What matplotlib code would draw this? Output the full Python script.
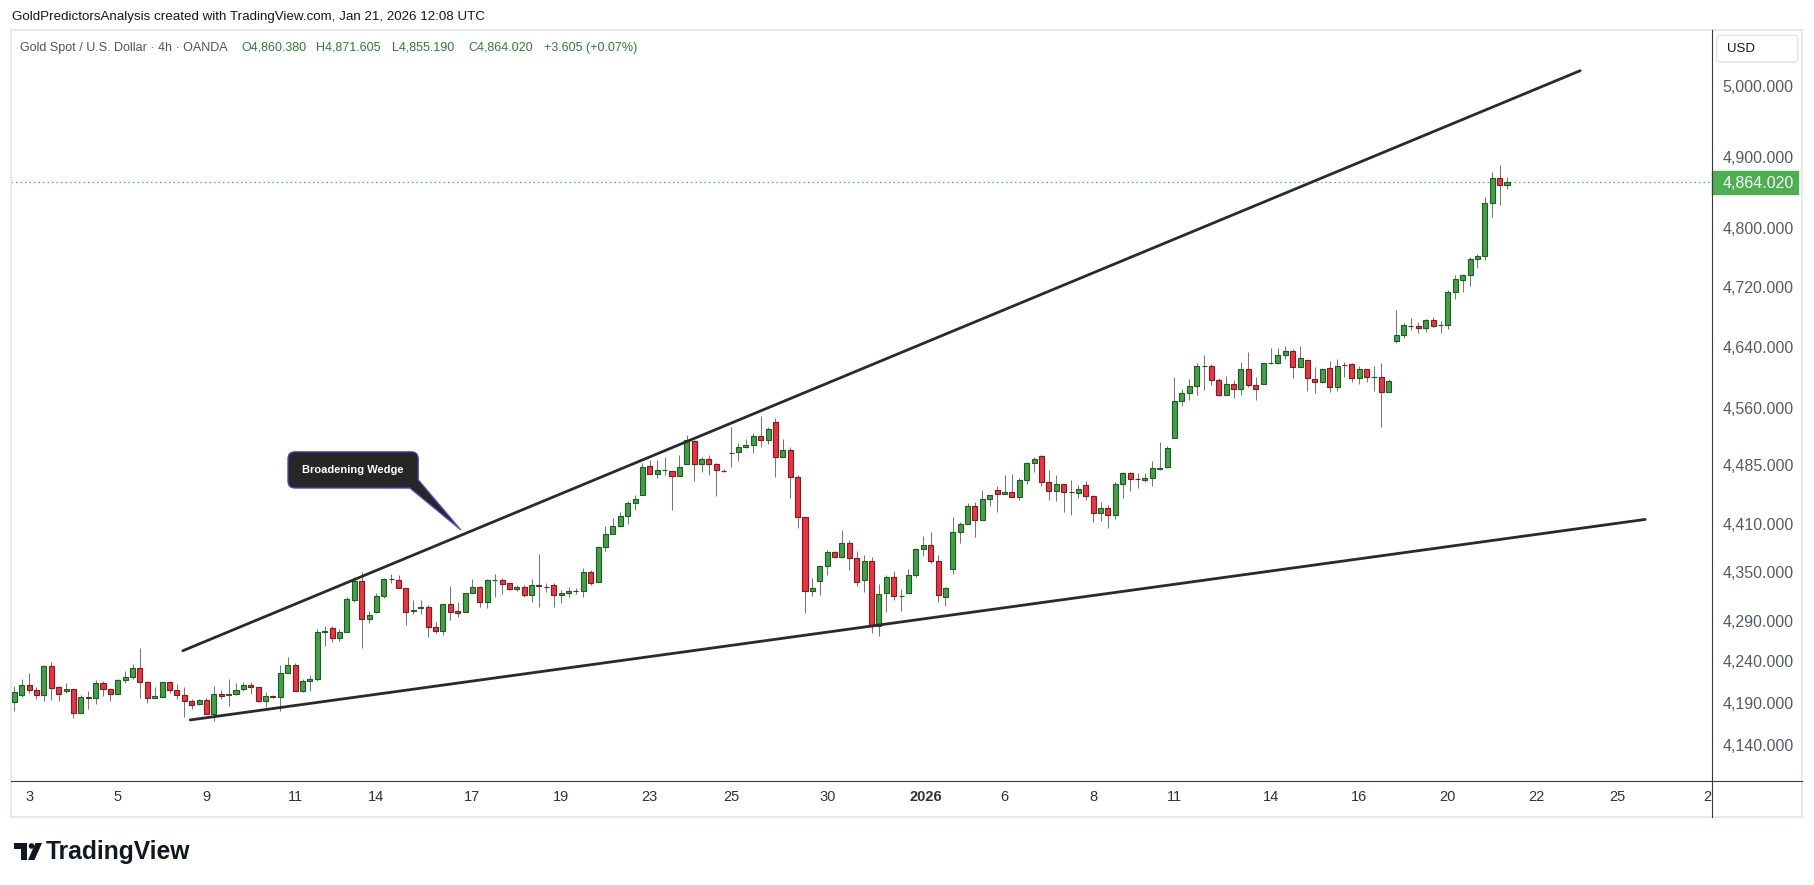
import numpy as np
import matplotlib
matplotlib.use("Agg")
import matplotlib.pyplot as plt
from matplotlib import font_manager
from matplotlib.patches import Rectangle, FancyBboxPatch, Polygon, Circle
from matplotlib.lines import Line2D
from matplotlib.transforms import Affine2D
from matplotlib.ticker import NullLocator

# -------------------- DATA (4h candles) --------------------
opens = [4190.7, 4199.1, 4211.2, 4205.1, 4199.1, 4234.2, 4208.8, 4203.9, 4206.3, 4177.5,
         4196.7, 4195.5, 4213.6, 4206.3, 4200.3, 4217.2, 4220.9, 4231.8, 4214.8, 4195.5,
         4197.4, 4214.8, 4205.1, 4199.1, 4191.8, 4188.3, 4193.0, 4176.3, 4200.3, 4199.1,
         4200.3, 4206.3, 4211.2, 4208.8, 4191.8, 4197.9, 4196.7, 4225.7, 4235.4, 4203.9,
         4216.0, 4218.4, 4276.2, 4280.5, 4268.3, 4275.6, 4315.3, 4338.9, 4291.6, 4300.2,
         4320.3, 4341.4, 4340.2, 4329.9, 4302.0, 4305.0, 4306.3, 4281.8, 4277.6, 4310.0,
         4301.8, 4300.9, 4323.6, 4331.1, 4313.2, 4339.5, 4339.8, 4336.1, 4328.6, 4331.1,
         4321.1, 4333.6, 4332.0, 4334.0, 4321.1, 4323.6, 4326.9, 4326.1, 4350.5, 4338.1,
         4380.9, 4397.3, 4407.8, 4420.9, 4436.5, 4446.7, 4484.3, 4473.6, 4478.5, 4477.5,
         4471.1, 4486.5, 4516.1, 4486.5, 4492.9, 4486.5, 4478.2, 4500.6, 4501.9, 4508.3,
         4510.9, 4522.6, 4517.4, 4540.8, 4495.4, 4504.4, 4469.8, 4418.8, 4326.1, 4338.6,
         4357.2, 4374.6, 4369.2, 4386.0, 4367.2, 4339.8, 4363.4, 4283.4, 4323.6, 4343.5,
         4319.7, 4323.6, 4346.0, 4378.4, 4383.4, 4363.4, 4319.4, 4353.5, 4399.9, 4410.0,
         4432.7, 4415.0, 4441.6, 4453.1, 4448.0, 4450.6, 4444.2, 4466.0, 4487.7, 4496.7,
         4463.4, 4451.9, 4460.8, 4450.8, 4449.3, 4459.6, 4445.4, 4423.9, 4430.2, 4421.4,
         4460.8, 4474.9, 4467.4, 4466.0, 4468.5, 4480.4, 4482.6, 4520.0, 4568.1, 4578.6,
         4587.9, 4613.9, 4614.2, 4595.8, 4576.0, 4590.5, 4583.9, 4610.3, 4589.2, 4590.5,
         4618.0, 4618.2, 4628.7, 4634.0, 4612.9, 4622.1, 4597.1, 4593.1, 4611.6, 4586.5,
         4616.2, 4616.9, 4598.4, 4610.3, 4599.4, 4599.7, 4579.9, 4648.1, 4655.4, 4668.4,
         4667.4, 4664.7, 4675.4, 4668.5, 4668.7, 4713.1, 4730.2, 4736.1, 4757.9, 4761.9,
         4834.8, 4869.6, 4860.380]
highs = [4210.3, 4218.4, 4225.7, 4208.8, 4235.8, 4239.4, 4210.3, 4213.9, 4206.3, 4199.5,
         4204.3, 4217.2, 4216.0, 4207.6, 4218.4, 4228.5, 4237.0, 4256.4, 4216.0, 4208.8,
         4214.8, 4216.0, 4212.4, 4208.8, 4194.2, 4194.2, 4195.5, 4210.0, 4205.1, 4218.4,
         4213.6, 4215.2, 4214.8, 4208.8, 4202.7, 4199.0, 4236.1, 4245.1, 4237.8, 4218.4,
         4223.3, 4279.3, 4283.4, 4283.4, 4279.3, 4319.4, 4344.3, 4350.5, 4301.8, 4324.4,
         4342.7, 4347.6, 4346.4, 4329.9, 4315.3, 4315.3, 4309.2, 4288.7, 4310.0, 4332.7,
         4313.2, 4324.4, 4341.0, 4332.7, 4341.8, 4347.6, 4343.0, 4336.1, 4334.0, 4334.3,
         4341.0, 4372.5, 4336.0, 4336.1, 4327.7, 4331.8, 4329.9, 4354.7, 4352.6, 4382.9,
         4407.8, 4417.6, 4425.9, 4439.4, 4447.1, 4487.7, 4492.0, 4492.0, 4495.8, 4477.5,
         4498.4, 4524.3, 4517.4, 4495.8, 4498.4, 4488.1, 4480.3, 4534.7, 4513.5, 4519.1,
         4526.5, 4549.0, 4534.3, 4546.0, 4519.1, 4508.3, 4472.7, 4418.8, 4342.7, 4358.8,
         4377.5, 4376.3, 4402.5, 4389.8, 4376.3, 4370.9, 4368.4, 4334.8, 4346.4, 4351.4,
         4329.0, 4353.9, 4380.4, 4395.2, 4400.2, 4371.3, 4331.8, 4419.2, 4412.9, 4436.9,
         4438.5, 4453.5, 4446.7, 4458.6, 4472.7, 4474.0, 4468.9, 4489.4, 4495.8, 4498.4,
         4479.1, 4472.7, 4460.8, 4466.0, 4459.6, 4464.7, 4446.7, 4437.8, 4434.4, 4463.4,
         4476.9, 4476.9, 4475.7, 4475.7, 4490.3, 4514.8, 4510.0, 4600.1, 4583.9, 4597.5,
         4618.2, 4629.1, 4616.9, 4598.4, 4601.4, 4595.8, 4619.5, 4632.7, 4600.1, 4618.2,
         4638.0, 4638.0, 4640.9, 4637.0, 4640.9, 4622.1, 4612.9, 4611.6, 4620.8, 4623.4,
         4619.5, 4618.2, 4614.2, 4610.3, 4614.2, 4618.2, 4597.1, 4689.2, 4672.2, 4678.1,
         4672.7, 4677.2, 4679.9, 4674.5, 4716.2, 4736.1, 4737.9, 4761.0, 4765.1, 4843.5,
         4878.0, 4888.2, 4871.605]
lows = [4180.6, 4197.0, 4201.5, 4195.0, 4192.6, 4193.8, 4192.6, 4201.5, 4172.3, 4177.5,
        4183.0, 4189.0, 4197.9, 4192.6, 4200.3, 4213.6, 4218.4, 4196.3, 4190.2, 4195.5,
        4196.7, 4201.5, 4195.0, 4173.5, 4182.3, 4187.1, 4176.3, 4168.0, 4194.2, 4186.6,
        4199.1, 4203.9, 4200.3, 4190.7, 4185.4, 4196.0, 4179.9, 4225.7, 4203.9, 4202.7,
        4203.9, 4216.0, 4258.8, 4263.2, 4264.4, 4275.6, 4312.8, 4256.0, 4286.7, 4299.0,
        4317.4, 4336.1, 4329.9, 4284.6, 4298.1, 4298.1, 4269.5, 4274.4, 4272.3, 4290.7,
        4294.8, 4300.9, 4323.6, 4307.1, 4305.1, 4318.6, 4322.4, 4327.7, 4326.5, 4319.4,
        4313.2, 4307.1, 4325.0, 4307.1, 4311.2, 4319.4, 4322.8, 4318.6, 4334.0, 4338.1,
        4376.6, 4397.3, 4407.0, 4410.7, 4428.1, 4446.7, 4473.6, 4468.5, 4472.7, 4428.1,
        4471.1, 4486.5, 4465.0, 4476.9, 4472.7, 4446.2, 4476.0, 4483.4, 4490.9, 4507.0,
        4501.3, 4509.1, 4513.0, 4470.5, 4495.4, 4443.6, 4405.7, 4299.7, 4320.6, 4321.9,
        4346.8, 4367.2, 4367.2, 4353.0, 4333.1, 4325.6, 4275.1, 4271.5, 4300.9, 4315.7,
        4302.2, 4323.6, 4343.5, 4370.4, 4360.9, 4313.2, 4308.3, 4348.0, 4386.8, 4410.0,
        4394.3, 4415.0, 4433.1, 4425.9, 4448.0, 4444.2, 4441.1, 4461.6, 4476.1, 4459.1,
        4441.1, 4439.8, 4425.9, 4422.1, 4443.6, 4440.3, 4413.3, 4414.6, 4405.7, 4417.1,
        4443.6, 4451.9, 4456.5, 4463.4, 4458.3, 4478.7, 4482.0, 4520.0, 4561.6, 4569.4,
        4576.8, 4583.4, 4589.2, 4574.7, 4576.0, 4572.8, 4576.8, 4586.5, 4569.4, 4590.5,
        4616.9, 4616.9, 4623.4, 4598.4, 4612.9, 4582.1, 4579.4, 4591.8, 4580.7, 4582.1,
        4599.7, 4593.1, 4590.5, 4593.1, 4582.1, 4535.1, 4579.9, 4645.5, 4652.2, 4662.1,
        4658.9, 4660.2, 4666.9, 4658.9, 4664.2, 4704.3, 4713.9, 4722.0, 4746.5, 4757.3,
        4816.3, 4832.8, 4855.190]
closes = [4202.7, 4211.2, 4205.1, 4199.1, 4234.2, 4207.6, 4200.3, 4206.3, 4177.5, 4196.7,
          4195.5, 4213.6, 4206.3, 4200.3, 4217.2, 4220.9, 4231.8, 4214.8, 4195.5, 4197.9,
          4214.8, 4205.1, 4199.1, 4191.8, 4187.1, 4193.0, 4176.3, 4200.3, 4197.9, 4200.3,
          4205.1, 4211.2, 4208.8, 4191.8, 4197.9, 4197.4, 4225.7, 4235.4, 4203.9, 4216.0,
          4218.4, 4275.6, 4276.8, 4268.3, 4275.6, 4316.2, 4338.9, 4291.6, 4296.9, 4320.3,
          4341.4, 4340.9, 4329.9, 4300.9, 4302.6, 4306.3, 4281.8, 4277.6, 4310.0, 4300.9,
          4299.0, 4323.6, 4331.1, 4313.2, 4339.8, 4340.0, 4334.8, 4328.6, 4331.1, 4321.1,
          4333.6, 4333.1, 4331.5, 4321.1, 4323.6, 4326.9, 4326.4, 4350.5, 4336.1, 4380.9,
          4397.3, 4407.8, 4420.9, 4436.5, 4441.6, 4483.4, 4473.6, 4478.8, 4479.0, 4471.1,
          4483.0, 4517.4, 4486.5, 4492.9, 4486.5, 4478.8, 4477.6, 4501.3, 4508.3, 4510.9,
          4522.6, 4517.4, 4532.1, 4495.4, 4504.4, 4469.8, 4418.8, 4326.1, 4329.9, 4357.2,
          4374.6, 4369.2, 4386.0, 4367.2, 4337.3, 4363.8, 4283.4, 4322.4, 4343.5, 4319.9,
          4320.2, 4346.0, 4378.4, 4383.4, 4363.4, 4321.1, 4329.9, 4399.9, 4410.0, 4432.7,
          4415.0, 4441.6, 4446.7, 4448.0, 4450.6, 4444.2, 4466.0, 4487.7, 4492.9, 4463.4,
          4451.9, 4460.8, 4450.6, 4450.4, 4454.4, 4445.4, 4423.9, 4430.2, 4421.4, 4460.8,
          4474.9, 4467.2, 4467.0, 4468.5, 4481.3, 4482.1, 4507.0, 4568.1, 4578.6, 4587.9,
          4614.2, 4614.4, 4595.8, 4576.0, 4590.5, 4583.9, 4610.3, 4589.2, 4583.9, 4618.2,
          4618.5, 4628.7, 4634.0, 4612.9, 4624.8, 4598.4, 4593.1, 4610.3, 4586.5, 4614.2,
          4615.7, 4598.4, 4610.3, 4599.7, 4599.9, 4579.9, 4594.4, 4655.4, 4668.7, 4668.0,
          4664.7, 4675.4, 4668.2, 4669.0, 4713.1, 4730.7, 4736.1, 4757.9, 4761.9, 4834.8,
          4869.6, 4860.415, 4864.020]

price_ticks = [5000, 4900, 4800, 4720, 4640, 4560, 4485, 4410, 4350, 4290, 4240, 4190, 4140]
date_pos = [2, 14, 26, 38, 49, 62, 74, 86, 97, 110, 123.3, 134, 146, 157, 170, 182, 194, 206, 217, 229.7]
date_lbl = ["3", "5", "9", "11", "14", "17", "19", "23", "25", "30", "2026",
            "6", "8", "11", "14", "16", "20", "22", "25", "27"]

# trend lines of the wedge: (bar index, price)
upper_x, upper_y = [22.8, 211.9], [4253.0, 5022.0]
lower_x, lower_y = [23.8, 220.7], [4169.5, 4416.1]
callout_at = (60.4, 4403.0)

# -------------------- STYLE --------------------
avail = {f.name for f in font_manager.fontManager.ttflist}
NARROW = "Liberation Sans Narrow" if "Liberation Sans Narrow" in avail else "Liberation Sans"
plt.rcParams["font.family"] = ["Liberation Sans", "DejaVu Sans"]

GREEN, GREEN_EDGE = "#43a047", "#1b5e20"
RED, RED_EDGE = "#f2313f", "#7f1b22"
WICK = "#777777"
LINE = "#2a2a2a"

W, H = 1814, 885
fig = plt.figure(figsize=(W / 100, H / 100), dpi=100)
px = Affine2D().scale(1, -1).translate(0, H)   # pixel coords, origin top-left

L, R, T, B = 11, 1711.7, 30, 781
ax = fig.add_axes([L / W, 1 - B / H, (R - L) / W, (B - T) / H])
ax.set_yscale("log")
ax.set_xlim(-0.45, 229.7)
ax.set_ylim(4097.2, 5080.9)
for s in ax.spines.values():
    s.set_visible(False)

# -------------------- CANDLES --------------------
o, h, l, c = map(np.array, (opens, highs, lows, closes))
x = np.arange(len(o))
up = c >= o
lo, hi = np.minimum(o, c), np.maximum(o, c)
ax.vlines(x, l, h, color=WICK, lw=0.75, zorder=2)
ax.bar(x, hi - lo, bottom=lo, width=0.68,
       color=np.where(up, GREEN, RED), edgecolor=np.where(up, GREEN_EDGE, RED_EDGE),
       linewidth=0.8, zorder=3)

last = c[-1]
ax.axhline(last, color="#4caf50", lw=0.9, dashes=(1.2, 2.4), zorder=1)

ax.plot(upper_x, upper_y, color=LINE, lw=2.0, solid_capstyle="round", zorder=4)
ax.plot(lower_x, lower_y, color=LINE, lw=2.0, solid_capstyle="round", zorder=4)

# -------------------- PRICE SCALE --------------------
ax.yaxis.tick_right()
ax.set_yticks(price_ticks)
ax.set_yticklabels([f"{v:,.3f}" for v in price_ticks])
ax.yaxis.set_minor_locator(NullLocator())
ax.tick_params(axis="y", length=0, pad=8, labelsize=11.5, labelcolor="#555b66")
ax.set_xticks([])

# -------------------- TIME SCALE --------------------
tax = fig.add_axes([L / W, 1 - 817 / H, (R - L) / W, (817 - B) / H])
tax.set_xlim(ax.get_xlim())
tax.set_ylim(0, 1)
tax.axis("off")
for p, s in zip(date_pos, date_lbl):
    tax.text(p, 0.56, s, ha="center", va="center", fontsize=10.5, family=NARROW,
             color="#2f3238", fontweight="bold" if s == "2026" else "normal", clip_on=True)

# -------------------- FRAME --------------------
fig.add_artist(Rectangle((11, 30), 1791, 787, transform=px, fill=False, ec="#e6e9ef", lw=1.5))
fig.add_artist(Line2D([R, R], [30, 817], transform=px, color="#3a3a3a", lw=0.8))
fig.add_artist(Line2D([11, 1802], [B, B], transform=px, color="#3a3a3a", lw=0.8))

# current price label
yc = H - ax.transData.transform((0, last))[1]
fig.add_artist(Rectangle((R, yc - 11.3), 86, 22.7, transform=px, color="#4caf50"))
fig.text(1722.7, yc, f"{last:,.3f}", transform=px, color="white", va="center_baseline",
         fontsize=11.5)

# USD box
fig.add_artist(FancyBboxPatch((1716.7, 35.3), 81, 27, boxstyle="round,pad=0,rounding_size=4",
                              transform=px, fc="white", ec="#e0e3eb", lw=1))
fig.text(1726.7, 49, "USD", transform=px, va="center", fontsize=9.5, color="#131722")

# -------------------- HEADER / LEGEND --------------------
renderer = fig.canvas.get_renderer()


def fit(t, width):
    w = t.get_window_extent(renderer).width
    t.set_fontsize(t.get_fontsize() * width / w)


hdr = fig.text(12, 17, "GoldPredictorsAnalysis created with TradingView.com, Jan 21, 2026 12:08 UTC",
               transform=px, va="center", fontsize=10, family=NARROW, color="#131722")
fit(hdr, 474)

leg = fig.text(20, 48, "Gold Spot / U.S. Dollar \u00b7 4h \u00b7 OANDA", transform=px,
               va="center", fontsize=10, family=NARROW, color="#50535e")
fit(leg, 208)
chg = c[-1] - c[-2]
vals = [f"O{o[-1]:,.3f}", f"H{h[-1]:,.3f}", f"L{l[-1]:,.3f}", f"C{c[-1]:,.3f}",
        f"{chg:+.3f} ({chg / c[-2] * 100:+.2f}%)"]
for xp, s in zip([241, 316, 392, 468, 544], vals):
    fig.text(xp, 48, s, transform=px, va="center", fontsize=leg.get_fontsize(),
             family=NARROW, color="#2e7d32")

# -------------------- CALLOUT --------------------
tx, ty = ax.transData.transform(callout_at)
ty = H - ty
box = FancyBboxPatch((tx - 172.7, ty - 78), 130.3, 36.3, boxstyle="round,pad=0,rounding_size=7",
                     transform=px, fc="#262626", ec="#4b4bd6", lw=0.9, zorder=5)
fig.add_artist(box)
p1, p2 = (tx - 50.7, ty - 41.7), (tx - 42.4, ty - 50)
fig.add_artist(Polygon([p1, (tx, ty), p2], closed=True, transform=px, fc="#262626", ec="none", zorder=6))
fig.add_artist(Line2D([p1[0], tx, p2[0]], [p1[1], ty, p2[1]], transform=px,
                      color="#4b4bd6", lw=0.9, zorder=7))
fig.text(tx - 107.7, ty - 60, "Broadening Wedge", transform=px, ha="center", va="center",
         color="white", fontsize=8, fontweight="bold", zorder=8)

# -------------------- TRADINGVIEW LOGO --------------------
fig.add_artist(Polygon([(14, 843), (27, 843), (27, 860), (21, 860), (21, 848.5), (14, 848.5)],
                       transform=px, fc="#131722", ec="none"))
fig.add_artist(Circle((31.5, 846), 2.8, transform=px, fc="#131722", ec="none"))
fig.add_artist(Polygon([(28, 860), (34.5, 860), (42, 843), (35.5, 843)],
                       transform=px, fc="#131722", ec="none"))
tv = fig.text(46, 852, "TradingView", transform=px, va="center", fontsize=15,
              family=NARROW, fontweight="bold", color="#131722")
fit(tv, 145)

fig.savefig("out.png", dpi=100)
